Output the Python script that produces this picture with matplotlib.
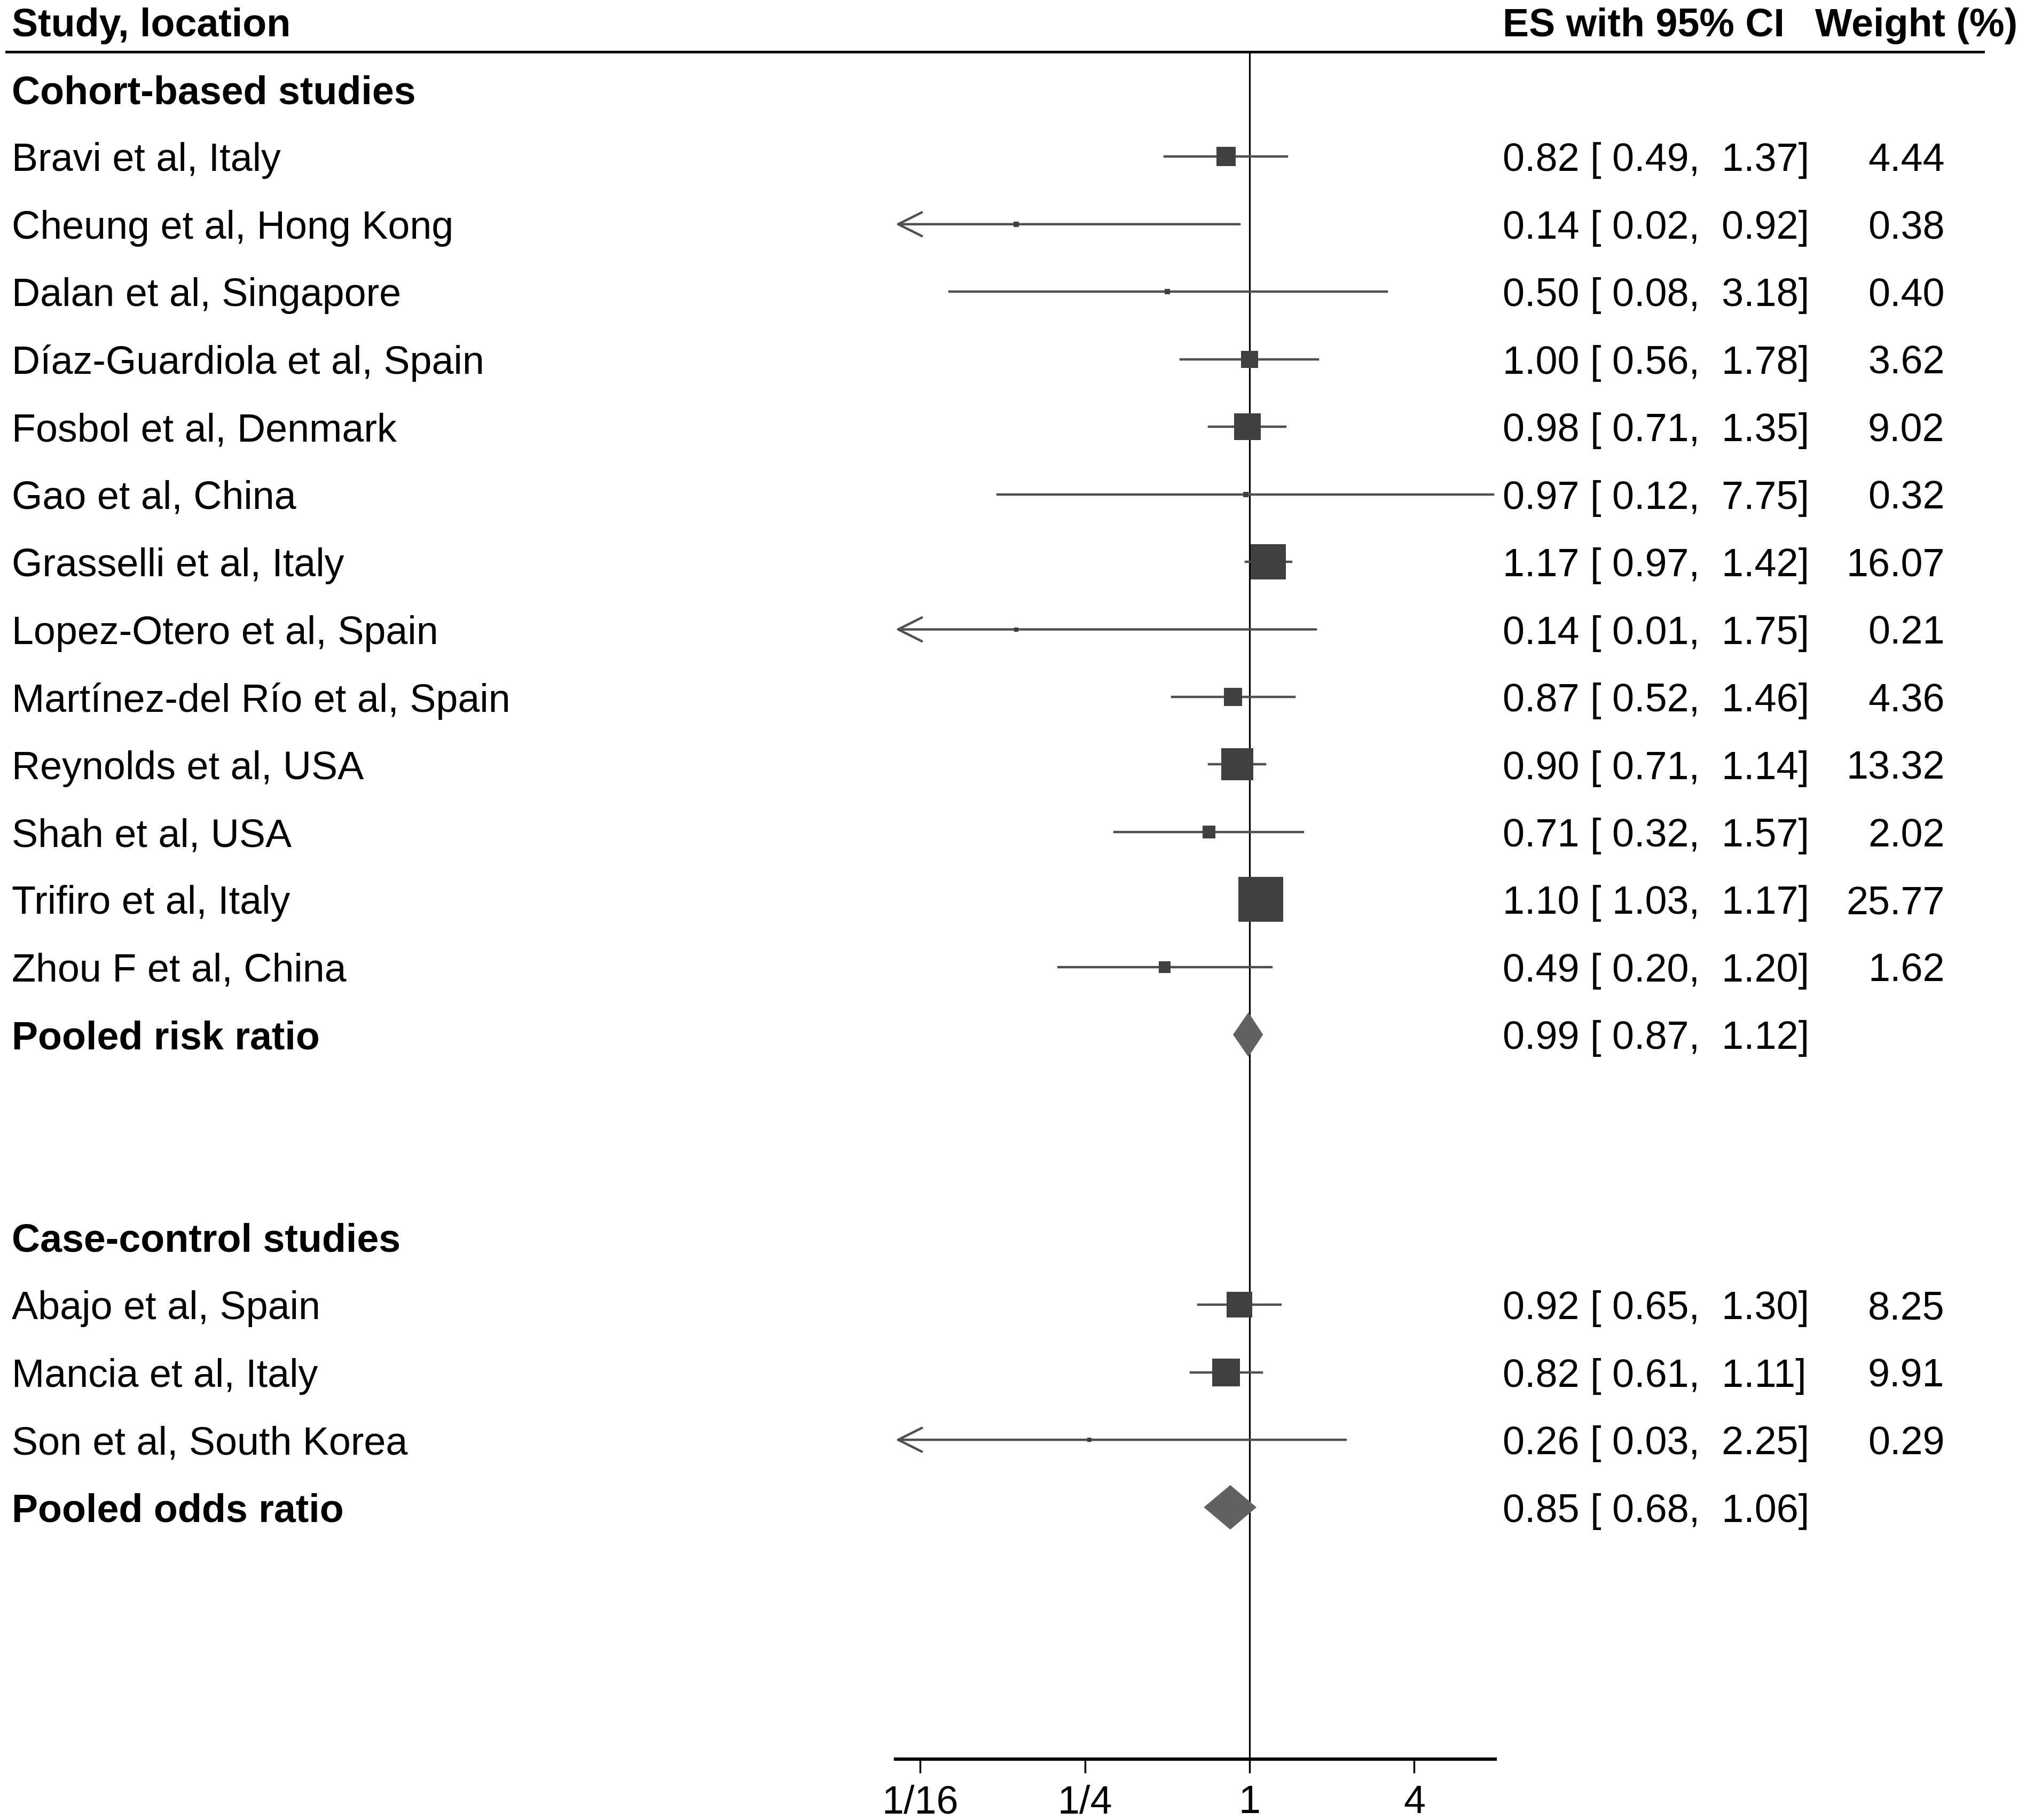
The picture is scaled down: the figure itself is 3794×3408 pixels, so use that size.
import matplotlib
matplotlib.use("Agg")
import matplotlib.pyplot as plt
import numpy as np
from matplotlib.transforms import blended_transform_factory
from matplotlib.lines import Line2D

plt.rcParams['font.family'] = ['Liberation Sans', 'DejaVu Sans']

# cohort-based studies
cohort_studies = ["Bravi et al, Italy", "Cheung et al, Hong Kong", "Dalan et al, Singapore",
                  "Díaz-Guardiola et al, Spain", "Fosbol et al, Denmark", "Gao et al, China",
                  "Grasselli et al, Italy", "Lopez-Otero et al, Spain", "Martínez-del Río et al, Spain",
                  "Reynolds et al, USA", "Shah et al, USA", "Trifiro et al, Italy", "Zhou F et al, China"]
cohort_es = [0.82, 0.14, 0.50, 1.00, 0.98, 0.97, 1.17, 0.14, 0.87, 0.90, 0.71, 1.10, 0.49]
cohort_lo = [0.49, 0.02, 0.08, 0.56, 0.71, 0.12, 0.97, 0.01, 0.52, 0.71, 0.32, 1.03, 0.20]
cohort_hi = [1.37, 0.92, 3.18, 1.78, 1.35, 7.75, 1.42, 1.75, 1.46, 1.14, 1.57, 1.17, 1.20]
cohort_w = [4.44, 0.38, 0.40, 3.62, 9.02, 0.32, 16.07, 0.21, 4.36, 13.32, 2.02, 25.77, 1.62]
cohort_pooled = (0.99, 0.87, 1.12)

# case-control studies
cc_studies = ["Abajo et al, Spain", "Mancia et al, Italy", "Son et al, South Korea"]
cc_es = [0.92, 0.82, 0.26]
cc_lo = [0.65, 0.61, 0.03]
cc_hi = [1.30, 1.11, 2.25]
cc_w = [8.25, 9.91, 0.29]
cc_pooled = (0.85, 0.68, 1.06)

tick_vals = [1/16, 1/4, 1, 4]
tick_labels = ["1/16", "1/4", "1", "4"]

FS = 53
DY = 0.06  # text sits a touch lower than the marks
SQ_COLOR = "#404040"
LINE_COLOR = "#505050"
DIAMOND_COLOR = "#626262"

fig = plt.figure(figsize=(37.94, 34.08), dpi=100)
ax = fig.add_axes([0.442, 0.0334, 0.2959, 0.9666])
ax.set_xscale('log', base=2)
xmin, xmax = 2 ** -4.3, 2 ** 2.98
ax.set_xlim(xmin, xmax)
ax.set_ylim(24.73, -1.32)

for s in ['left', 'right', 'top']:
    ax.spines[s].set_visible(False)
ax.spines['bottom'].set_linewidth(4.5)
ax.set_yticks([])
ax.set_xticks(tick_vals)
ax.set_xticklabels(tick_labels, fontsize=FS)
ax.minorticks_off()
ax.tick_params(axis='x', length=19, width=2.5, pad=15)

tr = blended_transform_factory(fig.transFigure, ax.transData)

# reference line at 1
ax.vlines(1, -0.555, 24.73, color='black', lw=2.3, zorder=1)


def draw_group(names, es, lo, hi, w, pooled, first_row, header, pooled_label):
    ax.text(0.0057, first_row + DY, header, transform=tr, fontsize=FS, fontweight='bold', va='center')
    for i, name in enumerate(names):
        r = first_row + 1 + i
        ax.text(0.0057, r + DY, name, transform=tr, fontsize=FS, va='center')
        if lo[i] < xmin:
            ax.annotate("", xy=(xmin, r), xytext=(hi[i], r),
                        arrowprops=dict(arrowstyle='->', color=LINE_COLOR, lw=3.2,
                                        mutation_scale=80, shrinkA=0, shrinkB=0), zorder=2)
        else:
            ax.plot([lo[i], hi[i]], [r, r], color=LINE_COLOR, lw=3.2, zorder=2)
        ax.plot(es[i], r, marker='s', color=SQ_COLOR, markersize=12 * np.sqrt(w[i]),
                markeredgewidth=0, zorder=3)
        ax.text(0.7417, r + DY, f"{es[i]:.2f} [ {lo[i]:.2f},  {hi[i]:.2f}]", transform=tr,
                fontsize=FS, va='center')
        ax.text(0.9598, r + DY, f"{w[i]:.2f}", transform=tr, fontsize=FS, va='center', ha='right')
    r = first_row + 1 + len(names)
    pe, pl, ph = pooled
    h = 0.33
    ax.fill([pl, pe, ph, pe], [r, r - h, r, r + h], color=DIAMOND_COLOR, lw=0, zorder=3)
    ax.text(0.0057, r + DY, pooled_label, transform=tr, fontsize=FS, fontweight='bold', va='center')
    ax.text(0.7417, r + DY, f"{pe:.2f} [ {pl:.2f},  {ph:.2f}]", transform=tr, fontsize=FS, va='center')


draw_group(cohort_studies, cohort_es, cohort_lo, cohort_hi, cohort_w, cohort_pooled,
           0, "Cohort-based studies", "Pooled risk ratio")
draw_group(cc_studies, cc_es, cc_lo, cc_hi, cc_w, cc_pooled,
           17, "Case-control studies", "Pooled odds ratio")

# column headers
ax.text(0.0057, -1 + DY, "Study, location", transform=tr, fontsize=FS, fontweight='bold', va='center')
ax.text(0.7417, -1 + DY, "ES with 95% CI", transform=tr, fontsize=FS, fontweight='bold', va='center')
ax.text(0.896, -1 + DY, "Weight (%)", transform=tr, fontsize=FS, fontweight='bold', va='center')
fig.add_artist(Line2D([0.0032, 0.979], [-0.555, -0.555], transform=tr, color='black', lw=3.5))

fig.savefig("out.png", dpi=100, facecolor='white')
